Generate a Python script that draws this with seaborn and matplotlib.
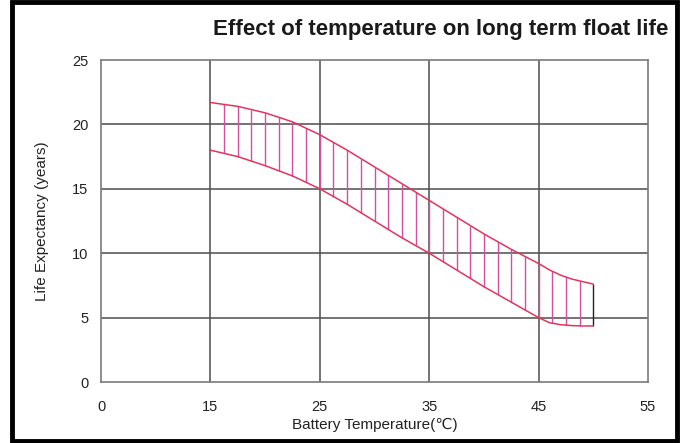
#!/usr/bin/env python
"""
Effect of temperature on long term float life (battery datasheet chart).
"""

import numpy as np
import pandas as pd
import matplotlib
matplotlib.use("Agg")
import matplotlib.pyplot as plt
import seaborn as sns
from matplotlib.patches import Rectangle

# Data (temperature in degC, life in years)
temperature = [15, 17.5, 20, 22.5, 25, 27.5, 30, 32.5, 35, 37.5, 40, 42.5, 45, 46, 47, 48, 49, 50]
life_upper = [21.7, 21.4, 20.9, 20.2, 19.2, 18.0, 16.7, 15.4, 14.1, 12.8, 11.5, 10.3, 9.2, 8.7, 8.3, 8.0, 7.8, 7.6]
life_lower = [18.0, 17.5, 16.8, 16.0, 15.0, 13.8, 12.5, 11.2, 10.0, 8.7, 7.4, 6.2, 5.0, 4.6, 4.45, 4.38, 4.35, 4.35]

# axis ticks: the "0" label sits one interval left of 15
x_ticks = [5, 15, 25, 35, 45, 55]
x_tick_labels = ["0", "15", "25", "35", "45", "55"]
y_ticks = [0, 5, 10, 15, 20, 25]

curve_color = "#e5345c"
hatch_color = "#d250a0"
grid_color = "#4d4d4d"

sns.set_style("white")
plt.rcParams["font.family"] = ["Liberation Sans", "DejaVu Sans"]

df = pd.DataFrame({
    "temperature": temperature * 2,
    "life": life_upper + life_lower,
    "bound": ["upper"] * len(temperature) + ["lower"] * len(temperature),
})

fig = plt.figure(figsize=(6.83, 4.43), dpi=100)
ax = fig.add_axes([101 / 683, 61 / 443, 547 / 683, 322 / 443])

# vertical hatching between the two bounds
hatch_x = np.arange(temperature[0] + 1.25, temperature[-1], 1.25)
ax.vlines(hatch_x, np.interp(hatch_x, temperature, life_lower),
          np.interp(hatch_x, temperature, life_upper),
          color=hatch_color, linewidth=1.0, zorder=2)
ax.vlines([temperature[-1]], [life_lower[-1]], [life_upper[-1]],
          color="#222222", linewidth=1.0, zorder=2)

sns.lineplot(data=df, x="temperature", y="life", units="bound", estimator=None,
             color=curve_color, linewidth=1.1, ax=ax, zorder=3, sort=False)

ax.set_xlim(5, 55)
ax.set_ylim(0, 25)
ax.set_xticks(x_ticks)
ax.set_xticklabels(x_tick_labels)
ax.set_yticks(y_ticks)

for v in [15, 25, 35, 45]:
    ax.axvline(v, color=grid_color, linewidth=1.1, zorder=1)
for v in [5, 10, 15, 20]:
    ax.axhline(v, color=grid_color, linewidth=1.1, zorder=1)

for s in ax.spines.values():
    s.set_color("#7a7a7a")
    s.set_linewidth(1.2)

ax.tick_params(axis="both", length=0, labelsize=10.5, colors="#222222")
ax.tick_params(axis="x", pad=13)
ax.tick_params(axis="y", pad=9)

ax.set_xlabel("Battery Temperature(℃)", fontsize=11, color="#222222", labelpad=3)
ax.set_ylabel("Life Expectancy (years)", fontsize=11, color="#222222", labelpad=17)

fig.text(668 / 683, 1 - 29 / 443, "Effect of temperature on long term float life",
         ha="right", va="center", fontsize=16, fontweight="bold", color="#1a1a1a")

# black frame around the whole picture
fig.patches.append(Rectangle((12 / 683, 2 / 443), 665 / 683, 439 / 443,
                             transform=fig.transFigure, fill=False,
                             edgecolor="black", linewidth=3.5))

fig.savefig("out.png", dpi=100)
